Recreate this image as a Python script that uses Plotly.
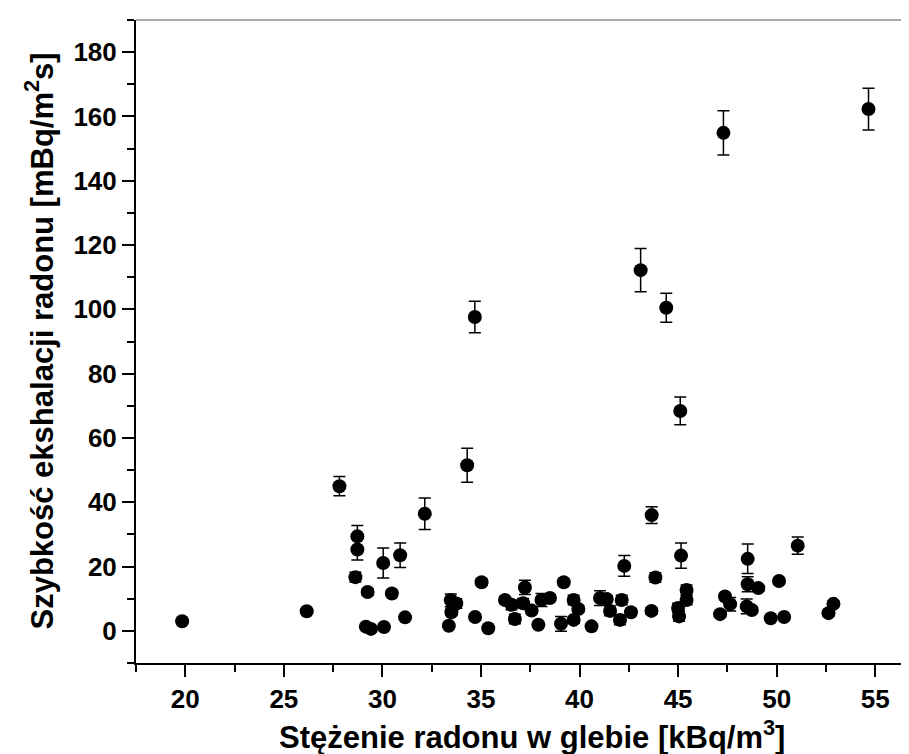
import plotly.graph_objects as go

# Radon concentration in soil [kBq/m3]
conc = [19.84, 26.16, 27.82, 28.63, 28.73, 28.73, 29.16, 29.25, 29.42, 30.04,
        30.08, 30.48, 30.90, 31.15, 32.15, 33.37, 33.47, 33.50, 33.75, 34.30,
        34.69, 34.70, 35.03, 35.37, 36.22, 36.55, 36.72, 37.14, 37.23, 37.57,
        37.91, 38.07, 38.50, 39.06, 39.20, 39.70, 39.70, 39.94, 40.61, 41.04,
        41.38, 41.55, 42.05, 42.14, 42.27, 42.61, 43.10, 43.65, 43.66, 43.85,
        44.40, 45.00, 45.05, 45.11, 45.15, 45.43, 45.43, 47.13, 47.30, 47.38,
        47.64, 48.48, 48.53, 48.53, 48.74, 49.07, 49.70, 50.12, 50.38, 51.07,
        52.63, 52.88, 54.66]
# Radon exhalation rate [mBq/m2s]
rate = [3.0, 6.1, 45.0, 16.7, 25.3, 29.4, 1.3, 12.1, 0.6, 21.1,
        1.2, 11.6, 23.5, 4.2, 36.4, 1.6, 9.5, 5.8, 8.5, 51.5,
        97.6, 4.3, 15.1, 0.8, 9.6, 8.1, 3.7, 8.6, 13.5, 6.3,
        1.9, 9.6, 10.2, 2.2, 15.1, 9.6, 3.4, 6.8, 1.4, 10.2,
        9.9, 6.2, 3.4, 9.6, 20.2, 5.8, 112.2, 6.2, 36.0, 16.6,
        100.5, 7.1, 4.5, 68.4, 23.4, 12.7, 9.6, 5.2, 154.9, 10.7,
        8.3, 7.6, 22.4, 14.5, 6.5, 13.3, 3.9, 15.5, 4.3, 26.5,
        5.5, 8.4, 162.3]
# Uncertainty of exhalation rate [mBq/m2s]
rate_err = [0.5, 0.8, 3.0, 1.5, 3.3, 3.4, 0.3, 1.0, 0.3, 4.7,
            0.3, 1.0, 3.8, 0.5, 4.9, 0.4, 2.0, 1.0, 1.5, 5.3,
            4.9, 0.8, 1.0, 0.3, 1.0, 1.5, 1.5, 1.5, 2.2, 1.0,
            0.5, 2.0, 1.0, 2.3, 1.0, 1.5, 1.0, 1.0, 0.5, 2.3,
            1.0, 1.5, 1.5, 1.5, 3.2, 1.0, 6.7, 1.0, 2.6, 1.5,
            4.5, 1.5, 1.5, 4.3, 3.9, 1.6, 1.5, 0.8, 6.9, 1.0,
            2.1, 2.3, 4.6, 2.3, 1.0, 1.0, 0.5, 1.0, 0.5, 2.7,
            0.8, 1.0, 6.5]

x_ticks = [20, 25, 30, 35, 40, 45, 50, 55]
y_ticks = [0, 20, 40, 60, 80, 100, 120, 140, 160, 180]

x_title = "Stężenie radonu w glebie [kBq/m<sup>3</sup>]"
y_title = "Szybkość ekshalacji radonu [mBq/m<sup>2</sup>s]"

FONT = "Liberation Sans, Arial, sans-serif"

fig = go.Figure()
fig.add_trace(go.Scatter(
    x=conc, y=rate, mode="markers",
    marker=dict(symbol="circle", size=14, color="black", line=dict(width=0)),
    error_y=dict(type="data", array=rate_err, visible=True, color="black",
                 thickness=1.5, width=6),
    showlegend=False,
))

axis_common = dict(
    showgrid=False, zeroline=False, showline=True, linecolor="black", linewidth=2,
    ticks="outside", ticklen=12, tickwidth=2, tickcolor="black",
    tickfont=dict(family=FONT, size=26, color="black", weight="bold"),
)

fig.update_layout(
    width=909, height=754,
    margin=dict(l=128, r=0, t=12, b=99, autoexpand=False),
    paper_bgcolor="white", plot_bgcolor="white",
    xaxis=dict(range=[17.5, 57.12], tickmode="array", tickvals=x_ticks,
               minor=dict(dtick=2.5, tick0=17.5, ticks="outside", ticklen=7,
                          tickwidth=2, tickcolor="black"),
               **axis_common),
    yaxis=dict(range=[-10, 190], tickmode="array", tickvals=y_ticks,
               minor=dict(dtick=10, tick0=-10, ticks="outside", ticklen=7,
                          tickwidth=2, tickcolor="black"),
               **axis_common),
    shapes=[dict(type="line", xref="paper", yref="paper", x0=0, x1=1, y0=1, y1=1,
                 line=dict(color="#555555", width=1))],
    annotations=[
        dict(text=x_title, xref="paper", yref="paper", x=0.507, y=0,
             xanchor="center", yanchor="top", yshift=-50, showarrow=False,
             font=dict(family=FONT, size=31, color="black", weight="bold")),
        dict(text=y_title, xref="paper", yref="paper", x=0, y=0.5,
             xanchor="center", yanchor="middle", xshift=-97, textangle=-90,
             showarrow=False,
             font=dict(family=FONT, size=31, color="black", weight="bold")),
    ],
)

fig.write_html("out.html")
